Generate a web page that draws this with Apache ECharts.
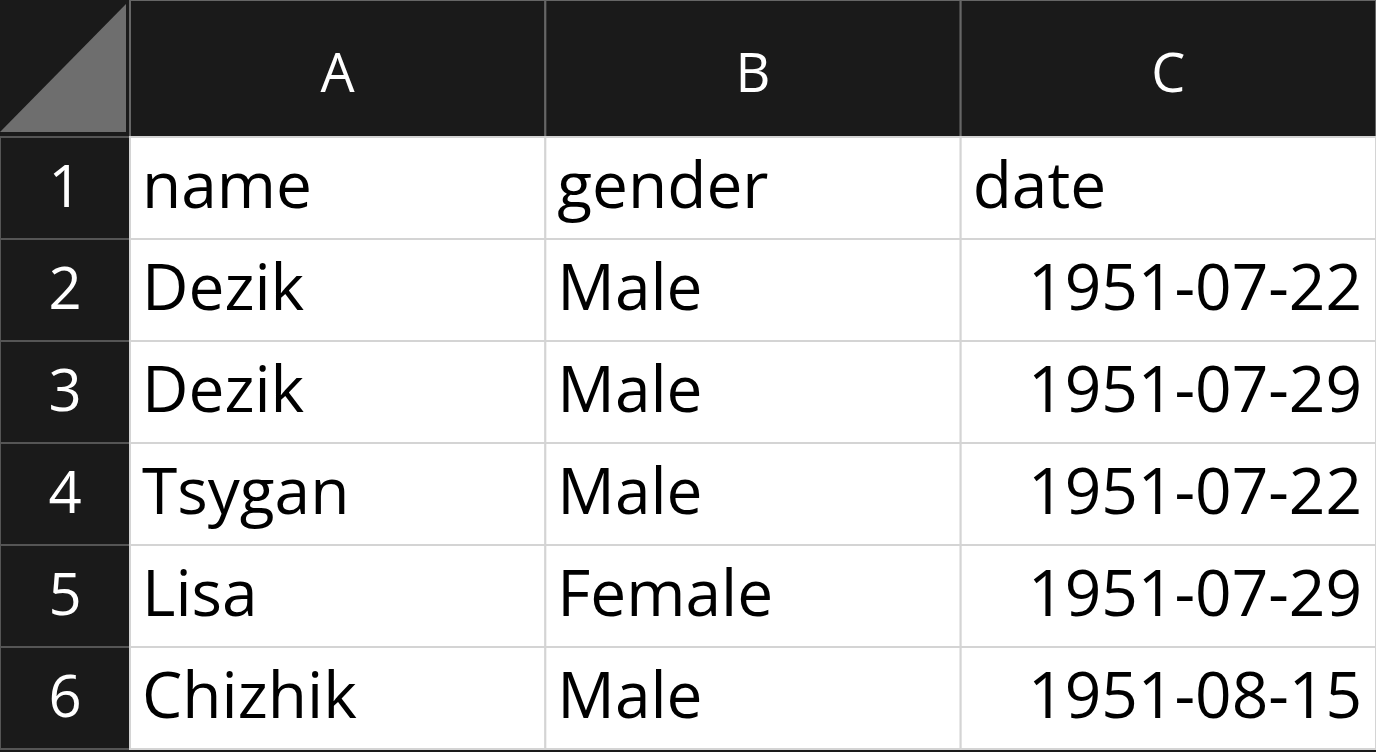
<!DOCTYPE html>
<html><head><meta charset="utf-8">
<script src="https://cdn.jsdelivr.net/npm/echarts@6/dist/echarts.min.js"></script>
<style>html,body{margin:0;background:#1a1a1a;}#c{width:1376px;height:752px;}</style>
</head><body><div id="c"></div>
<script>
const columns = ['A','B','C'];
const rowNums = ['1','2','3','4','5','6'];
const headerRow = ['name','gender','date'];
const names = ['Dezik','Dezik','Tsygan','Lisa','Chizhik'];
const genders = ['Male','Male','Male','Female','Male'];
const dates = ['1951-07-22','1951-07-29','1951-07-22','1951-07-29','1951-08-15'];

const body = [];
headerRow.forEach((t,i)=>body.push([i,0,t]));
names.forEach((n,r)=>{body.push([0,r+1,n]);body.push([1,r+1,genders[r]]);body.push([2,r+1,dates[r]]);});
const colHead = columns.map((c,i)=>[i,0,c]);
const rowHead = rowNums.map((r,i)=>[0,i,r]);

const FONT = '"Open Sans", "Noto Sans", sans-serif';
function cell(fill, stroke, lw, color, size, dy, alignFn, data){
  return function(params, api){
    const d = data[params.dataIndex];
    const c = api.coord([api.value(0), api.value(1)]);
    const s = api.size([1,1]);
    const x0 = c[0]-s[0]/2, y0 = c[1]-s[1]/2;
    const al = alignFn(d);
    const tx = al==='left' ? x0+12 : al==='right' ? x0+s[0]-14 : c[0];
    return {type:'group', children:[
      {type:'rect', shape:{x:x0,y:y0,width:s[0],height:s[1]}, style:{fill:fill, stroke:stroke, lineWidth:lw}},
      {type:'text', style:{x:tx, y:c[1]+dy, text:d[2], fill:color, font:'400 '+size+'px '+FONT, align:al, verticalAlign:'middle'}}
    ]};
  };
}
const hide = {show:false};
const option = {
  animation:false,
  backgroundColor:'#1a1a1a',
  grid:[
    {left:130, top:0, width:1246, height:137},
    {left:0, top:137, width:130, height:612},
    {left:130, top:137, width:1246, height:612}
  ],
  xAxis:[
    {gridIndex:0,type:'category',data:columns,axisLine:hide,axisTick:hide,axisLabel:hide},
    {gridIndex:1,type:'category',data:['#'],axisLine:hide,axisTick:hide,axisLabel:hide},
    {gridIndex:2,type:'category',data:columns,axisLine:hide,axisTick:hide,axisLabel:hide}
  ],
  yAxis:[
    {gridIndex:0,type:'category',data:['h'],axisLine:hide,axisTick:hide,axisLabel:hide},
    {gridIndex:1,type:'category',data:rowNums,inverse:true,axisLine:hide,axisTick:hide,axisLabel:hide},
    {gridIndex:2,type:'category',data:rowNums,inverse:true,axisLine:hide,axisTick:hide,axisLabel:hide}
  ],
  graphic:[
    {type:'polygon', shape:{points:[[126,4],[126,132],[0,132]]}, style:{fill:'#6e6e6e'}},
    {type:'rect', shape:{x:0,y:749,width:1376,height:3}, style:{fill:'#1a1a1a'}}
  ],
  series:[
    {type:'custom', xAxisIndex:0, yAxisIndex:0, data:colHead,
     renderItem:cell('#1a1a1a','#666666',2,'#ffffff',54,8,()=> 'center',colHead)},
    {type:'custom', xAxisIndex:1, yAxisIndex:1, data:rowHead,
     renderItem:cell('#1a1a1a','#555555',2,'#ffffff',58,2,()=> 'center',rowHead)},
    {type:'custom', xAxisIndex:2, yAxisIndex:2, data:body,
     renderItem:cell('#ffffff','#d4d4d4',2,'#000000',64,2,(d)=> (d[0]===2 && d[1]>0)?'right':'left',body)}
  ]
};
echarts.init(document.getElementById('c')).setOption(option);
</script></body></html>
